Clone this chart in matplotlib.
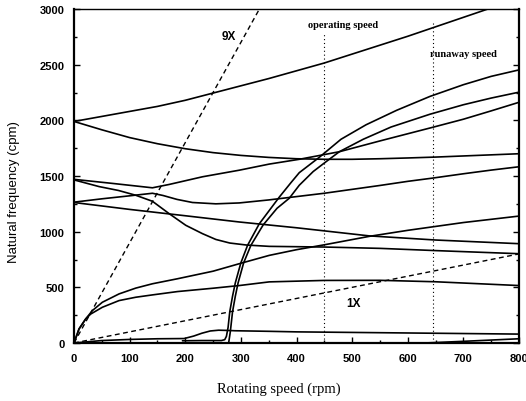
import matplotlib
matplotlib.use("Agg")
import matplotlib.pyplot as plt
from matplotlib.ticker import MultipleLocator

# ---- data (rotating speed rpm, natural frequency cpm) ----
c1_x = [0, 50, 100, 150, 200, 250, 300, 350, 400, 450, 500, 550, 600, 650, 700, 750, 770]
c1_y = [1990, 2035, 2080, 2125, 2180, 2245, 2310, 2375, 2445, 2515, 2595, 2675, 2755, 2840, 2925, 3010, 3045]

c2_x = [0, 50, 100, 150, 200, 250, 300, 350, 400, 450, 500, 550, 600, 650, 700, 750, 800]
c2_y = [1990, 1915, 1845, 1790, 1745, 1710, 1685, 1667, 1655, 1650, 1650, 1655, 1662, 1670, 1680, 1690, 1700]

ca_x = [0, 70, 141, 171, 231, 297, 351, 405, 477, 550, 643, 700, 750, 800]
ca_y = [1470, 1433, 1394, 1424, 1493, 1552, 1607, 1650, 1718, 1815, 1935, 2010, 2085, 2162]

cb_x = [0, 45, 80, 111, 141, 171, 201, 231, 255, 280, 310, 351, 450, 550, 650, 800]
cb_y = [1465, 1405, 1370, 1327, 1273, 1162, 1057, 982, 930, 898, 880, 868, 862, 850, 830, 802]

cc_x = [0, 50, 100, 141, 160, 185, 213, 255, 297, 350, 405, 450, 500, 550, 600, 643, 700, 750, 800]
cc_y = [1265, 1295, 1322, 1345, 1325, 1290, 1262, 1250, 1258, 1285, 1318, 1345, 1380, 1415, 1452, 1480, 1520, 1553, 1583]

cd_x = [0, 100, 200, 297, 400, 531, 650, 800]
cd_y = [1262, 1200, 1143, 1087, 1035, 962, 925, 892]

ce_x = [0, 5, 9, 21, 33, 51, 81, 111, 141, 186, 250, 297, 351, 400, 450, 531, 600, 700, 800]
ce_y = [0, 70, 126, 216, 291, 366, 441, 493, 532, 577, 645, 712, 787, 838, 882, 958, 1012, 1082, 1140]

cf_x = [0, 5, 9, 21, 30, 51, 81, 111, 141, 186, 250, 297, 351, 450, 550, 650, 800]
cf_y = [0, 70, 126, 216, 260, 321, 381, 411, 432, 462, 492, 516, 549, 562, 563, 550, 516]

g1_x = [195, 230, 265, 271, 274, 277, 280, 285, 290, 300, 312, 333, 351, 369, 390, 405, 441, 480, 525, 580, 640, 700, 750, 800]
g1_y = [20, 22, 22, 30, 60, 140, 280, 420, 540, 720, 877, 1070, 1190, 1310, 1440, 1530, 1668, 1830, 1960, 2090, 2215, 2320, 2395, 2453]

g2_x = [278, 281, 285, 290, 295, 305, 318, 340, 365, 387, 405, 430, 453, 477, 520, 570, 640, 700, 750, 800]
g2_y = [0, 100, 280, 420, 540, 720, 877, 1060, 1210, 1300, 1417, 1540, 1628, 1718, 1830, 1940, 2055, 2140, 2200, 2253]

ci_x = [0, 50, 100, 150, 198, 215, 230, 245, 260, 275, 290, 350, 400, 500, 600, 700, 800]
ci_y = [0, 22, 32, 38, 40, 62, 88, 108, 115, 113, 110, 105, 100, 95, 90, 85, 80]

ck_x = [630, 700, 800]
ck_y = [0, 15, 38]

excitation_orders = [9, 1]
speed_range = [0, 800]
operating_speed = 450
runaway_speed = 645

xticks = [0, 100, 200, 300, 400, 500, 600, 700, 800]
yticks = [0, 500, 1000, 1500, 2000, 2500, 3000]

# ---- figure ----
fig = plt.figure(figsize=(5.26, 4.02), dpi=100)
ax = fig.add_axes([74/526, 58/402, 445/526, 334/402])

lw = 1.2
for xs, ys in [(c1_x, c1_y), (c2_x, c2_y), (ca_x, ca_y), (cb_x, cb_y), (cc_x, cc_y),
               (cd_x, cd_y), (ce_x, ce_y), (cf_x, cf_y), (g1_x, g1_y), (g2_x, g2_y),
               (ci_x, ci_y), (ck_x, ck_y)]:
    ax.plot(xs, ys, color="black", lw=lw, solid_capstyle="round",
            solid_joinstyle="round", zorder=3)

for k in excitation_orders:
    ax.plot(speed_range, [k * s for s in speed_range], color="black", lw=1.0,
            linestyle=(0, (3.5, 2.5)), zorder=2)

ax.axvline(operating_speed, ymin=0, ymax=2780/3000, color="black", lw=0.8,
           linestyle=(0, (1, 2.5)), zorder=1)
ax.axvline(runaway_speed, ymin=0, ymax=2880/3000, color="black", lw=0.8,
           linestyle=(0, (1, 2.5)), zorder=1)

ax.text(483, 2865, "operating speed", ha="center", va="center", fontsize=7.5,
        fontweight="bold", family="Liberation Serif")
ax.text(700, 2604, "runaway speed", ha="center", va="center", fontsize=7.5,
        fontweight="bold", family="Liberation Serif")
ax.text(279, 2757, "9X", ha="center", va="center", fontsize=8.5,
        fontweight="bold", family="Liberation Sans")
ax.text(503, 360, "1X", ha="center", va="center", fontsize=8.5,
        fontweight="bold", family="Liberation Sans")

ax.set_xlim(0, 800)
ax.set_ylim(0, 3000)
ax.set_xticks(xticks)
ax.set_yticks(yticks)
ax.xaxis.set_minor_locator(MultipleLocator(50))
ax.yaxis.set_minor_locator(MultipleLocator(250))
ax.tick_params(which="both", direction="in", top=False, right=True, width=1.0)
ax.tick_params(which="major", length=4, pad=7)
ax.tick_params(which="minor", length=2.5)
for lab in ax.get_xticklabels() + ax.get_yticklabels():
    lab.set_fontfamily("Liberation Sans")
    lab.set_fontweight("bold")
    lab.set_fontsize(8)

for side in ["left", "bottom", "right"]:
    ax.spines[side].set_linewidth(1.6)
ax.spines["top"].set_linewidth(1.0)

ax.set_xlabel("Rotating speed (rpm)", family="Liberation Serif", fontsize=10.5)
ax.set_ylabel("Natural frequency (cpm)", family="Liberation Sans", fontsize=9.5)
ax.xaxis.set_label_coords(0.46, -0.114)
ax.yaxis.set_label_coords(-0.121, 0.456)

fig.savefig("out.png", dpi=100)
